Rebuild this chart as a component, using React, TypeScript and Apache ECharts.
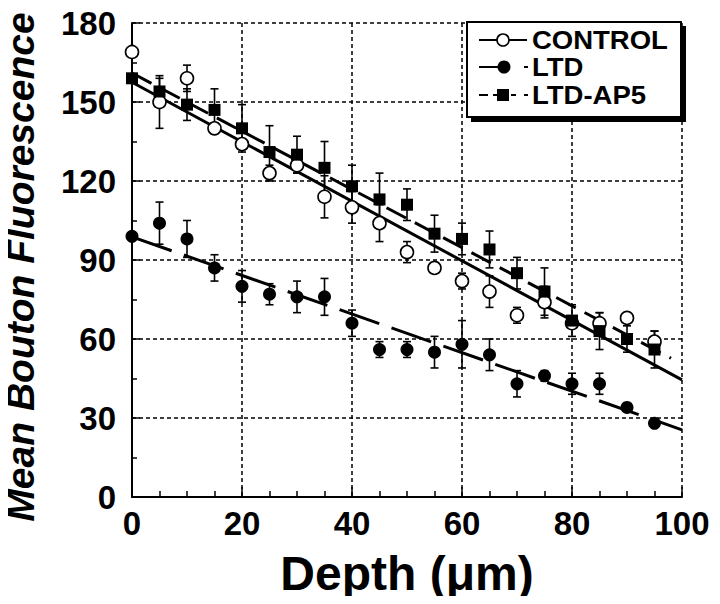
import React, { useEffect, useRef } from "react";
import * as echarts from "echarts";

const depth = [0, 5, 10, 15, 20, 25, 30, 35, 40, 45, 50, 55, 60, 65, 70, 75, 80, 85, 90, 95];
const controlValues = [169, 150, 159, 140, 134, 123, 126, 114, 110, 104, 93, 87, 82, 78, 69, 74, 66, 66, 68, 59];
const controlErr = [0, 10, 5, 2, 2, 3, 3, 8, 6, 7, 4, 2, 3, 6, 3, 6, 0, 4, 2, 4];
const ltdValues = [99, 104, 98, 87, 80, 77, 76, 76, 66, 56, 56, 55, 58, 54, 43, 46, 43, 43, 34, 28];
const ltdErr = [0, 8, 7, 5, 6, 4, 6, 7, 5, 3, 3, 6, 9, 6, 5, 2, 4, 4, 0, 0];
const ap5Values = [159, 154, 149, 147, 140, 131, 130, 125, 118, 113, 111, 100, 98, 94, 85, 78, 67, 63, 60, 56];
const ap5Err = [0, 5, 6, 8, 9, 10, 7, 10, 8, 10, 6, 7, 6, 7, 6, 9, 6, 7, 5, 7];

// fitted regression lines: [x, y] endpoints
const controlFit = [[0, 157.5], [100, 44.5]];
const ltdFit = [[0, 98.8], [100, 25.5]];
const ap5Fit = [[0, 161], [98, 52.7]];

const seriesNames = ["CONTROL", "LTD", "LTD-AP5"];
const xTicks = { min: 0, max: 100, interval: 20 };
const yTicks = { min: 0, max: 180, interval: 30 };

const FONT = "'Liberation Sans', Arial, Helvetica, sans-serif";

function pts(vals: number[]) {
  return depth.map((d, i) => [d, vals[i]]);
}
function errPts(vals: number[], errs: number[]) {
  return depth.map((d, i) => [d, vals[i], errs[i]]).filter((p) => p[2] > 0);
}

function errorSeries(vals: number[], errs: number[]) {
  return {
    type: "custom",
    z: 2,
    silent: true,
    data: errPts(vals, errs),
    renderItem: (params: any, api: any) => {
      const x = api.value(0);
      const y = api.value(1);
      const e = api.value(2);
      const top = api.coord([x, y + e]);
      const bot = api.coord([x, y - e]);
      const cap = 4;
      const style = { stroke: "#000", lineWidth: 1.6 };
      return {
        type: "group",
        children: [
          { type: "line", shape: { x1: top[0], y1: top[1], x2: bot[0], y2: bot[1] }, style },
          { type: "line", shape: { x1: top[0] - cap, y1: top[1], x2: top[0] + cap, y2: top[1] }, style },
          { type: "line", shape: { x1: bot[0] - cap, y1: bot[1], x2: bot[0] + cap, y2: bot[1] }, style },
        ],
      };
    },
  };
}

export default function App() {
  const ref = useRef<HTMLDivElement>(null);
  useEffect(() => {
    if (!ref.current) return;
    const chart = echarts.init(ref.current, null, { renderer: "svg" });
    const lx = 467;
    const ly = 22;
    const rowY = [40, 67, 95];
    chart.setOption({
      animation: false,
      backgroundColor: "#fff",
      grid: { left: 132, right: 38, top: 23, bottom: 107, outerBoundsMode: "none", containLabel: false },
      xAxis: {
        type: "value",
        min: xTicks.min,
        max: xTicks.max,
        interval: xTicks.interval,
        name: "Depth (μm)",
        nameLocation: "middle",
        nameGap: 52,
        nameTextStyle: { fontFamily: FONT, fontWeight: "bold", fontSize: 48, color: "#000" },
        axisLine: { lineStyle: { color: "#000", width: 2 } },
        axisTick: { inside: true, length: 10, lineStyle: { color: "#000", width: 1.5 } },
        minorTick: { show: true, splitNumber: 4, length: 6, lineStyle: { color: "#000", width: 1.5 } },
        axisLabel: { fontFamily: FONT, fontWeight: "bold", fontSize: 33, color: "#000", margin: 10 },
        splitLine: { show: true, lineStyle: { color: "#000", width: 1.5, type: [4, 3] } },
      },
      yAxis: {
        type: "value",
        min: yTicks.min,
        max: yTicks.max,
        interval: yTicks.interval,
        name: "Mean Bouton Fluorescence",
        nameLocation: "middle",
        nameGap: 92,
        nameTextStyle: {
          fontFamily: FONT, fontWeight: "bold", fontStyle: "italic", fontSize: 39, color: "#000",
          padding: [0, 14, 0, 0],
        },
        axisLine: { show: true, lineStyle: { color: "#000", width: 2 } },
        axisTick: { show: true, inside: true, length: 8, lineStyle: { color: "#000", width: 1.5 } },
        minorTick: { show: true, splitNumber: 2, length: 5, lineStyle: { color: "#000", width: 1.5 } },
        axisLabel: { fontFamily: FONT, fontWeight: "bold", fontSize: 33, color: "#000", margin: 16 },
        splitLine: { show: true, lineStyle: { color: "#000", width: 1.5, type: [4, 3] } },
      },
      series: [
        errorSeries(controlValues, controlErr),
        errorSeries(ltdValues, ltdErr),
        errorSeries(ap5Values, ap5Err),
        {
          type: "line", data: controlFit, symbol: "none", z: 3, silent: true,
          lineStyle: { color: "#000", width: 3 },
        },
        {
          type: "line", data: ltdFit, symbol: "none", z: 3, silent: true,
          lineStyle: { color: "#000", width: 3, type: [42, 13] },
        },
        {
          type: "line", data: ap5Fit, symbol: "none", z: 3, silent: true,
          lineStyle: { color: "#000", width: 3, type: [22, 10] },
        },
        {
          name: seriesNames[0], type: "scatter", data: pts(controlValues), symbol: "circle", symbolSize: 13, z: 5,
          itemStyle: { color: "#fff", borderColor: "#000", borderWidth: 1.6, opacity: 1 },
        },
        {
          name: seriesNames[1], type: "scatter", data: pts(ltdValues), symbol: "circle", symbolSize: 13, z: 5,
          itemStyle: { color: "#000", opacity: 1 },
        },
        {
          name: seriesNames[2], type: "scatter", data: pts(ap5Values), symbol: "rect", symbolSize: 12, z: 5,
          itemStyle: { color: "#000", opacity: 1 },
        },
      ],
      graphic: [
        { type: "rect", z: 10, shape: { x: lx + 4, y: ly + 4, width: 215, height: 96 }, style: { fill: "#000" } },
        { type: "rect", z: 11, shape: { x: lx, y: ly, width: 214, height: 95 }, style: { fill: "#fff", stroke: "#000", lineWidth: 2 } },
        // CONTROL
        { type: "line", z: 12, shape: { x1: 479, y1: rowY[0], x2: 527, y2: rowY[0] }, style: { stroke: "#000", lineWidth: 2 } },
        { type: "circle", z: 13, shape: { cx: 503, cy: rowY[0], r: 6 }, style: { fill: "#fff", stroke: "#000", lineWidth: 1.6 } },
        // LTD
        { type: "line", z: 12, shape: { x1: 479, y1: rowY[1], x2: 502, y2: rowY[1] }, style: { stroke: "#000", lineWidth: 2 } },
        { type: "circle", z: 13, shape: { cx: 504, cy: rowY[1], r: 6.5 }, style: { fill: "#000" } },
        { type: "line", z: 12, shape: { x1: 524, y1: rowY[1], x2: 528, y2: rowY[1] }, style: { stroke: "#000", lineWidth: 2 } },
        // LTD-AP5
        { type: "line", z: 12, shape: { x1: 479, y1: rowY[2], x2: 488, y2: rowY[2] }, style: { stroke: "#000", lineWidth: 2 } },
        { type: "line", z: 12, shape: { x1: 493, y1: rowY[2], x2: 498, y2: rowY[2] }, style: { stroke: "#000", lineWidth: 2 } },
        { type: "rect", z: 13, shape: { x: 497, y: rowY[2] - 6, width: 12, height: 12 }, style: { fill: "#000" } },
        { type: "line", z: 12, shape: { x1: 511, y1: rowY[2], x2: 516, y2: rowY[2] }, style: { stroke: "#000", lineWidth: 2 } },
        { type: "line", z: 12, shape: { x1: 524, y1: rowY[2], x2: 528, y2: rowY[2] }, style: { stroke: "#000", lineWidth: 2 } },
        ...seriesNames.map((n, i) => ({
          type: "text", z: 13, x: 532, y: rowY[i], scaleX: 1.1,
          style: {
            text: n, fill: "#000", fontFamily: FONT, fontWeight: "bold", fontSize: 25, lineHeight: 25,
            verticalAlign: "middle", textVerticalAlign: "middle",
          },
        })),
      ],
    });
    return () => chart.dispose();
  }, []);
  return <div ref={ref} style={{ width: 720, height: 604, margin: -8 }} />;
}
